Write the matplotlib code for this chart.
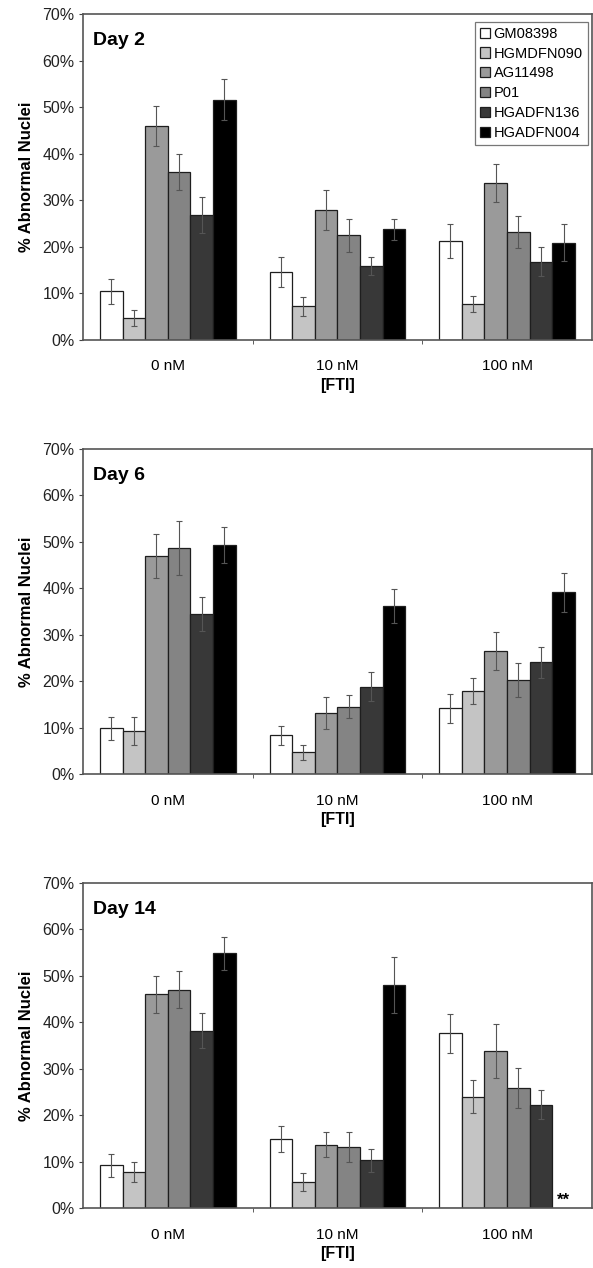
import numpy as np
import matplotlib
matplotlib.use("Agg")
import matplotlib.pyplot as plt
from matplotlib.ticker import FuncFormatter

plt.rcParams['font.family'] = ['Liberation Sans', 'DejaVu Sans']

doses = ["0 nM", "10 nM", "100 nM"]
lines = ["GM08398", "HGMDFN090", "AG11498", "P01", "HGADFN136", "HGADFN004"]
colors = ["#ffffff", "#c4c4c4", "#9a9a9a", "#848484", "#383838", "#000000"]
days = ["Day 2", "Day 6", "Day 14"]

# % abnormal nuclei, rows = cell line, cols = dose
day2 = [[10.5, 14.6, 21.3],
        [4.7, 7.2, 7.7],
        [46.1, 27.9, 33.8],
        [36.1, 22.5, 23.2],
        [26.9, 15.9, 16.8],
        [51.7, 23.8, 20.9]]
day2_err = [[2.7, 3.3, 3.7],
            [1.8, 2.0, 1.7],
            [4.3, 4.3, 4.1],
            [3.8, 3.6, 3.4],
            [3.9, 2.0, 3.1],
            [4.4, 2.3, 4.0]]
day6 = [[9.9, 8.4, 14.2],
        [9.4, 4.8, 18.0],
        [47.0, 13.2, 26.5],
        [48.8, 14.6, 20.3],
        [34.5, 18.9, 24.1],
        [49.4, 36.2, 39.2]]
day6_err = [[2.5, 2.1, 3.1],
            [3.0, 1.6, 2.8],
            [4.7, 3.4, 4.1],
            [5.8, 2.5, 3.6],
            [3.7, 3.1, 3.4],
            [3.9, 3.6, 4.2]]
day14 = [[9.2, 14.9, 37.6],
         [7.8, 5.7, 24.0],
         [46.0, 13.7, 33.9],
         [47.0, 13.1, 25.8],
         [38.2, 10.3, 22.3],
         [54.8, 48.0, np.nan]]
day14_err = [[2.5, 2.8, 4.1],
             [2.2, 1.9, 3.6],
             [3.9, 2.7, 5.8],
             [4.0, 3.2, 4.3],
             [3.7, 2.5, 3.2],
             [3.6, 6.1, np.nan]]

data = [day2, day6, day14]
errs = [day2_err, day6_err, day14_err]

fig = plt.figure(figsize=(5.93, 12.68), dpi=100)
bottoms = [0.7319, 0.3892, 0.0471]
left, width, height = 0.140, 0.858, 0.2567

x = np.arange(len(doses))
bw = 0.1333
for k in range(3):
    ax = fig.add_axes([left, bottoms[k], width, height])
    vals = np.array(data[k])
    ee = np.array(errs[k])
    for i in range(len(lines)):
        pos = x - 0.4 + bw * (i + 0.5)
        ax.bar(pos, vals[i], bw, color=colors[i], edgecolor="#1e1e1e",
               linewidth=0.9, label=lines[i], zorder=2)
        ax.errorbar(pos, vals[i], yerr=ee[i], fmt="none", ecolor="#555555",
                    elinewidth=0.8, capsize=2, capthick=0.8, zorder=3)
        for j in range(len(doses)):
            if np.isnan(vals[i][j]):
                ax.text(pos[j], 0.2, "**", ha="center", va="bottom",
                        fontsize=12, fontweight="bold")
    ax.set_xlim(-0.5, 2.5)
    ax.set_ylim(0, 70)
    ax.set_yticks(np.arange(0, 71, 10))
    ax.yaxis.set_major_formatter(FuncFormatter(lambda v, p: "%d%%" % v))
    ax.set_xticks(x)
    ax.set_xticklabels(doses, fontsize=11)
    ax.set_xticks([0.5, 1.5], minor=True)
    ax.tick_params(axis="x", which="major", length=0, pad=14)
    ax.tick_params(axis="x", which="minor", length=3, color="#444444")
    ax.tick_params(axis="y", labelsize=11.5, length=3, color="#444444", pad=3,
                   labelcolor="#222222")
    for s in ax.spines.values():
        s.set_color("#555555")
        s.set_linewidth(1.2)
    ax.set_ylabel("% Abnormal Nuclei", fontsize=12, fontweight="bold", labelpad=6)
    ax.set_xlabel("[FTI]", fontsize=11.5, fontweight="bold", labelpad=3)
    ax.text(0.02, 0.945, days[k], transform=ax.transAxes, fontsize=14,
            fontweight="bold", va="top", ha="left")
    if k == 0:
        leg = ax.legend(loc="upper right", bbox_to_anchor=(0.992, 0.978),
                        borderaxespad=0, fontsize=10.5, handlelength=0.7,
                        handleheight=0.7, handletextpad=0.25, labelspacing=0.4,
                        borderpad=0.35, fancybox=False, framealpha=1)
        leg.get_frame().set_edgecolor("#777777")
        leg.get_frame().set_linewidth(0.9)

fig.savefig("out.png", dpi=100)
